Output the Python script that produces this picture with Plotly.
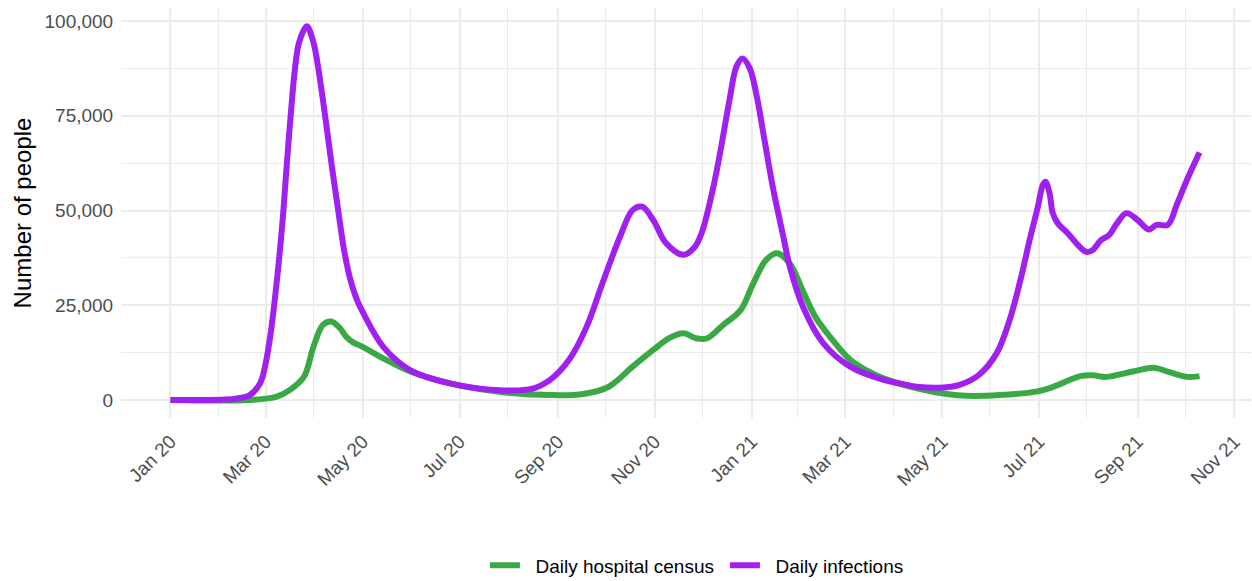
import plotly.graph_objects as go

# ---- data ----
inf_dates = [
    "2020-01-01", "2020-02-05", "2020-02-12", "2020-02-20", "2020-02-26 10:00",
    "2020-02-29 12:00", "2020-03-04 02:00", "2020-03-08 22:00", "2020-03-12 01:00",
    "2020-03-14 05:00", "2020-03-16 17:00", "2020-03-19 10:00", "2020-03-22 02:00",
    "2020-03-26 19:00", "2020-03-30 22:00", "2020-04-03 02:00", "2020-04-07 07:00",
    "2020-04-11 12:00", "2020-04-15 17:00", "2020-04-19 07:00", "2020-04-23",
    "2020-04-27 10:00", "2020-05-01 10:00", "2020-05-14", "2020-05-30 19:00",
    "2020-06-25", "2020-07-26", "2020-08-16", "2020-08-27", "2020-09-08", "2020-09-19",
    "2020-09-29", "2020-10-10", "2020-10-18", "2020-10-24", "2020-10-31", "2020-11-08",
    "2020-11-19", "2020-11-26", "2020-11-30 10:00", "2020-12-07 17:00",
    "2020-12-13", "2020-12-18 05:00", "2020-12-22 10:00", "2020-12-26 05:00",
    "2020-12-30 19:00", "2021-01-04", "2021-01-09 05:00", "2021-01-14 10:00",
    "2021-01-20 17:00", "2021-01-25", "2021-02-02 07:00", "2021-02-15", "2021-03-04",
    "2021-03-25", "2021-04-04", "2021-04-15", "2021-05-02", "2021-05-12", "2021-05-24",
    "2021-06-04 05:00", "2021-06-12 10:00", "2021-06-19 17:00", "2021-06-25",
    "2021-06-30 05:00", "2021-07-03 07:00", "2021-07-05", "2021-07-07 14:00",
    "2021-07-09 14:00", "2021-07-12 19:00", "2021-07-19", "2021-07-25 10:00",
    "2021-07-30 17:00", "2021-08-03 19:00", "2021-08-09", "2021-08-14", "2021-08-19",
    "2021-08-25", "2021-09-01", "2021-09-08", "2021-09-13", "2021-09-20", "2021-09-26",
    "2021-10-02", "2021-10-10",
]
inf_values = [
    0, 100, 400, 1300, 4400,
    8800, 17600, 35300, 49700,
    62000, 75200, 87500, 94500,
    98600, 94500, 87500, 75200,
    62000, 49700, 39600, 32200,
    26400, 22900, 14000, 7900,
    4400, 2600, 3000, 5300, 10600, 19300,
    30800, 43000, 50100, 51000, 47500, 41400,
    38300, 40300, 44000, 55900,
    67300, 79600, 88000, 90100,
    87500, 80500, 68200, 55900,
    43500, 35200, 24600, 15000, 8800,
    5300, 4400, 3500, 3300, 4000, 6600,
    12300, 21100, 32500, 42200,
    51000, 56700, 57600, 54500,
    49300, 46600, 44000, 40900,
    39100, 39600, 42200, 43500, 46600,
    49300, 47500, 45000, 46200, 46200, 51900,
    58000, 65300,
]

hosp_dates = [
    "2020-01-01", "2020-02-20", "2020-03-08", "2020-03-16", "2020-03-25", "2020-03-31",
    "2020-04-06", "2020-04-11", "2020-04-16", "2020-04-21", "2020-04-25", "2020-05-01",
    "2020-05-14", "2020-05-31", "2020-06-25", "2020-07-26", "2020-08-27", "2020-09-17",
    "2020-10-03", "2020-10-18", "2020-10-31", "2020-11-10", "2020-11-19", "2020-11-27",
    "2020-12-04", "2020-12-14", "2020-12-25", "2021-01-02", "2021-01-10", "2021-01-17",
    "2021-01-25", "2021-02-02", "2021-02-10", "2021-02-21", "2021-03-04", "2021-03-14",
    "2021-03-25", "2021-04-15", "2021-05-05", "2021-05-16", "2021-06-06", "2021-06-29",
    "2021-07-10", "2021-07-27", "2021-08-04", "2021-08-12", "2021-08-29", "2021-09-11",
    "2021-09-20", "2021-10-02", "2021-10-10",
]
hosp_values = [
    0, 0, 900, 2600, 6100, 14000,
    19800, 20700, 19300, 16500, 15200, 14000,
    11000, 7500, 4400, 2200, 1300, 1600,
    3500, 8800, 13200, 16300, 17600, 16300,
    16300, 19800, 23700, 30800, 36900, 38700,
    36000, 29000, 22000, 15800, 10600, 7900,
    5700, 3100, 1500, 1100, 1300, 2200,
    3500, 6300, 6500, 6100, 7500, 8500,
    7500, 6100, 6300,
]

series_names = ["Daily hospital census", "Daily infections"]
series_colors = ["#3BA846", "#A020F0"]

x_tick_vals = ["2020-01-01", "2020-03-01", "2020-05-01", "2020-07-01", "2020-09-01",
               "2020-11-01", "2021-01-01", "2021-03-01", "2021-05-01", "2021-07-01",
               "2021-09-01", "2021-11-01"]
x_tick_text = ["Jan 20", "Mar 20", "May 20", "Jul 20", "Sep 20", "Nov 20",
               "Jan 21", "Mar 21", "May 21", "Jul 21", "Sep 21", "Nov 21"]
x_minor_vals = ["2019-12-01", "2020-01-31", "2020-03-31", "2020-05-31", "2020-07-31",
                "2020-10-01", "2020-12-01", "2021-01-30", "2021-03-31", "2021-05-31",
                "2021-07-31", "2021-10-01"]

FONT = "Liberation Sans, Arial, Helvetica, sans-serif"
GRID = "#EBEBEB"
PAD = "\u00a0\u00a0"

fig = go.Figure()
fig.add_trace(go.Scatter(
    x=hosp_dates, y=hosp_values, mode="lines", name=PAD + series_names[0],
    line=dict(color=series_colors[0], width=6, shape="spline", smoothing=1.0),
))
fig.add_trace(go.Scatter(
    x=inf_dates, y=inf_values, mode="lines", name=PAD + series_names[1],
    line=dict(color=series_colors[1], width=6, shape="spline", smoothing=1.0),
))

fig.update_layout(
    width=1252, height=581,
    margin=dict(l=121, r=1, t=8, b=163),
    paper_bgcolor="white", plot_bgcolor="white",
    font=dict(family=FONT, size=19, color="#000000"),
    showlegend=True,
    legend=dict(orientation="h", xref="container", x=0.579, xanchor="center",
                yref="container", y=0.027, yanchor="middle",
                font=dict(family=FONT, size=19, color="#000000"),
                itemwidth=30, traceorder="normal",
                entrywidth=195, entrywidthmode="pixels"),
    xaxis=dict(
        type="date",
        range=["2019-11-30 20:00", "2021-11-11 10:00"],
        tickmode="array", tickvals=x_tick_vals, ticktext=x_tick_text,
        tickangle=-45,
        tickfont=dict(family=FONT, size=19, color="#4D4D4D"),
        showgrid=True, gridcolor=GRID, gridwidth=1.6,
        ticks="outside", ticklen=4, tickcolor="rgba(0,0,0,0)",
        minor=dict(tickmode="array", tickvals=x_minor_vals, showgrid=True,
                   gridcolor=GRID, gridwidth=1.0),
        showline=False, zeroline=False, automargin=False,
    ),
    yaxis=dict(
        range=[-4750, 103430],
        tickmode="linear", tick0=0, dtick=25000, tickformat=",",
        tickfont=dict(family=FONT, size=19, color="#4D4D4D"),
        showgrid=True, gridcolor=GRID, gridwidth=1.6,
        ticks="outside", ticklen=3, tickcolor="rgba(0,0,0,0)",
        minor=dict(tickmode="linear", tick0=12500, dtick=25000, showgrid=True,
                   gridcolor=GRID, gridwidth=1.0),
        showline=False, zeroline=False, automargin=False,
        title=dict(text="Number of people", standoff=6,
                   font=dict(family=FONT, size=24, color="#000000")),
    ),
)

fig.write_html("out.html", config={"displayModeBar": False},
               post_script="document.body.style.margin='0';")
